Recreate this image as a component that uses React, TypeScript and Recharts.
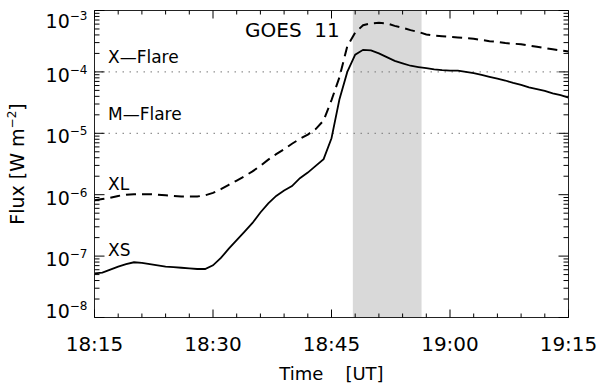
import { LineChart, Line, XAxis, YAxis, ReferenceArea, ReferenceLine, Label } from 'recharts'

const FONT = 'DejaVu Sans'

// minutes after 18:15 UT
const minutes = [
  0, 1, 2, 3, 4, 5, 6, 7, 8, 9, 10, 11, 12, 13, 14, 15, 16, 17, 18, 19, 20,
  21, 22, 23, 24, 25, 26, 27, 28, 29, 30, 31, 32, 33, 34, 35, 36, 37, 38, 39, 40,
  41, 42, 43, 44, 45, 46, 47, 48, 49, 50, 51, 52, 53, 54, 55, 56, 57, 58, 59, 60,
]

// GOES 11 short channel (XS), W m^-2
const xsFlux = [
  5.25e-8, 5.37e-8, 6.03e-8, 6.76e-8, 7.41e-8, 7.94e-8, 7.76e-8, 7.41e-8, 7.08e-8, 6.76e-8, 6.61e-8,
  6.46e-8, 6.31e-8, 6.17e-8, 6.17e-8, 7.08e-8, 9.33e-8, 1.32e-7, 1.82e-7, 2.51e-7, 3.47e-7,
  5.13e-7, 7.24e-7, 9.55e-7, 1.17e-6, 1.38e-6, 1.86e-6, 2.29e-6, 2.95e-6, 3.8e-6, 8.32e-6,
  3.55e-5, 1.0e-4, 1.91e-4, 2.29e-4, 2.24e-4, 2.0e-4, 1.74e-4, 1.51e-4, 1.38e-4, 1.26e-4,
  1.2e-4, 1.15e-4, 1.1e-4, 1.07e-4, 1.05e-4, 1.05e-4, 1.0e-4, 9.55e-5, 8.91e-5, 8.32e-5,
  7.76e-5, 7.24e-5, 6.61e-5, 6.17e-5, 5.62e-5, 5.25e-5, 4.9e-5, 4.47e-5, 4.17e-5, 3.8e-5,
]

// GOES 11 long channel (XL), W m^-2
const xlFlux = [
  8.13e-7, 8.51e-7, 8.91e-7, 9.55e-7, 1.0e-6, 1.02e-6, 1.02e-6, 1.02e-6, 1.0e-6, 9.77e-7, 9.55e-7,
  9.33e-7, 9.33e-7, 9.33e-7, 9.77e-7, 1.07e-6, 1.23e-6, 1.45e-6, 1.7e-6, 2.0e-6, 2.4e-6,
  2.95e-6, 3.72e-6, 4.57e-6, 5.5e-6, 6.76e-6, 8.13e-6, 9.55e-6, 1.17e-5, 1.62e-5, 3.47e-5,
  8.13e-5, 2.63e-4, 4.37e-4, 5.75e-4, 6.17e-4, 6.31e-4, 6.17e-4, 5.62e-4, 5.25e-4, 4.79e-4,
  4.47e-4, 4.07e-4, 3.89e-4, 3.8e-4, 3.72e-4, 3.63e-4, 3.55e-4, 3.47e-4, 3.31e-4, 3.16e-4,
  3.09e-4, 2.95e-4, 2.88e-4, 2.82e-4, 2.69e-4, 2.57e-4, 2.45e-4, 2.34e-4, 2.24e-4, 2.14e-4,
]

const timeTicks = [0, 15, 30, 45, 60]
const timeLabels = ['18:15', '18:30', '18:45', '19:00', '19:15']
const timeMinorTicks = [0, 3, 6, 9, 12, 15, 18, 21, 24, 27, 30, 33, 36, 39, 42, 45, 48, 51, 54, 57, 60]

const decades = [1e-8, 1e-7, 1e-6, 1e-5, 1e-4]
const mantissas = [1, 2, 3, 4, 5, 6, 7, 8, 9]
const fluxTicks = [...decades.flatMap((d) => mantissas.map((m) => m * d)), 1e-3]

// shaded interval (minutes after 18:15)
const flareStart = 32.7
const flareEnd = 41.4

const data = minutes.map((t, i) => ({ t, xs: xsFlux[i], xl: xlFlux[i] }))

const isDecade = (v: number) => {
  const lg = Math.log10(v)
  return Math.abs(lg - Math.round(lg)) < 1e-6
}

function BottomTick(props: any) {
  const { x, y, payload } = props
  const idx = timeTicks.indexOf(payload.value)
  const major = idx >= 0
  return (
    <g>
      <line x1={x} y1={y} x2={x} y2={y - (major ? 8 : 4)} stroke="#000" />
      {major && (
        <text x={x} y={y + 33.5} textAnchor="middle" fontSize={20} fontFamily={FONT} fill="#000">
          {timeLabels[idx]}
        </text>
      )}
    </g>
  )
}

function TopTick(props: any) {
  const { x, y, payload } = props
  const major = timeTicks.includes(payload.value)
  return <line x1={x} y1={y} x2={x} y2={y + (major ? 8 : 4)} stroke="#000" />
}

function LeftTick(props: any) {
  const { x, y, payload } = props
  const major = isDecade(payload.value)
  const exp = Math.round(Math.log10(payload.value))
  const dy = exp === -3 ? 17 : exp === -8 ? 0 : 10
  return (
    <g>
      <line x1={x} y1={y} x2={x + (major ? 10 : 5)} y2={y} stroke="#000" />
      {major && (
        <text x={x - 7} y={y + dy} textAnchor="end" fontSize={19} fontFamily={FONT} fill="#000">
          10
          <tspan dy={-8} fontSize={12}>
            {'\u2212' + Math.abs(exp)}
          </tspan>
        </text>
      )}
    </g>
  )
}

function RightTick(props: any) {
  const { x, y, payload } = props
  const major = isDecade(payload.value)
  return <line x1={x} y1={y} x2={x - (major ? 10 : 5)} y2={y} stroke="#000" />
}

const annotation = (text: string, dx: number, dy: number, size = 17) => (props: any) => {
  const vb = props.viewBox
  return (
    <text x={vb.x + dx} y={vb.y + dy} fontSize={size} fontFamily={FONT} fill="#000">
      {text}
    </text>
  )
}

const yTitle = (props: any) => {
  const vb = props.viewBox
  const cx = vb.x + 24
  const cy = vb.y + vb.height / 2
  return (
    <text
      x={cx}
      y={cy}
      transform={`rotate(-90, ${cx}, ${cy})`}
      textAnchor="middle"
      fontSize={19}
      fontFamily={FONT}
      fill="#000"
    >
      Flux [W m
      <tspan dy={-8} fontSize={12}>{'\u22122'}</tspan>
      <tspan dy={8}>]</tspan>
    </text>
  )
}

const xTitle = (props: any) => {
  const vb = props.viewBox
  return (
    <text x={vb.x + vb.width / 2} y={vb.y + 62.5} textAnchor="middle" fontSize={18} fontFamily={FONT} fill="#000">
      Time
      <tspan dx={22}>[UT]</tspan>
    </text>
  )
}

const goesTitle = (props: any) => {
  const vb = props.viewBox
  return (
    <text x={vb.x + 150.5} y={37} fontSize={20} fontFamily={FONT} fill="#000">
      {'GOES\u00a0\u00a011'}
    </text>
  )
}

export default function App() {
  return (
    <div style={{ position: 'absolute', left: 0, top: 0, width: 600, height: 384, background: '#fff' }}>
      <LineChart
        width={600}
        height={384}
        data={data}
        margin={{ top: 0, right: 0, bottom: 0, left: 0 }}
        style={{ fontFamily: FONT }}
      >
        <ReferenceArea x1={flareStart} x2={flareEnd} fill="#d9d9d9" fillOpacity={1} stroke="none" />
        <XAxis
          dataKey="t"
          type="number"
          domain={[0, 60]}
          ticks={timeMinorTicks}
          interval={0}
          allowDataOverflow
          height={66.5}
          tickSize={0}
          tickMargin={0}
          tickLine={false}
          tick={BottomTick}
          axisLine={{ stroke: '#222' }}
        >
          <Label content={xTitle} />
        </XAxis>
        <XAxis
          xAxisId="top"
          orientation="top"
          dataKey="t"
          type="number"
          domain={[0, 60]}
          ticks={timeMinorTicks}
          interval={0}
          allowDataOverflow
          height={10.5}
          tickSize={0}
          tickMargin={0}
          tickLine={false}
          tick={TopTick}
          axisLine={{ stroke: '#222' }}
        >
          <Label content={goesTitle} />
        </XAxis>
        <YAxis
          scale="log"
          type="number"
          domain={[1e-8, 1e-3]}
          ticks={fluxTicks}
          interval={0}
          allowDataOverflow
          width={94.5}
          tickSize={0}
          tickMargin={0}
          tickLine={false}
          tick={LeftTick}
          axisLine={{ stroke: '#222' }}
        >
          <Label content={yTitle} />
        </YAxis>
        <YAxis
          yAxisId="right"
          orientation="right"
          scale="log"
          type="number"
          domain={[1e-8, 1e-3]}
          ticks={fluxTicks}
          interval={0}
          allowDataOverflow
          width={31.5}
          tickSize={0}
          tickMargin={0}
          tickLine={false}
          tick={RightTick}
          axisLine={{ stroke: '#222' }}
        />
        <ReferenceLine y={1e-4} stroke="#777" strokeDasharray="1.5 5.5">
          <Label content={annotation('X\u2014Flare', 13.5, -8.5)} />
        </ReferenceLine>
        <ReferenceLine y={1e-5} stroke="#777" strokeDasharray="1.5 5.5">
          <Label content={annotation('M\u2014Flare', 13.5, -13)} />
        </ReferenceLine>
        <ReferenceLine y={1e-6} stroke="none">
          <Label content={annotation('XL', 13.5, -4.5)} />
        </ReferenceLine>
        <ReferenceLine y={1e-7} stroke="none">
          <Label content={annotation('XS', 13.5, 0)} />
        </ReferenceLine>
        <Line
          type="linear"
          dataKey="xl"
          stroke="#000"
          strokeWidth={2}
          strokeDasharray="10 6"
          dot={false}
          isAnimationActive={false}
        />
        <Line type="linear" dataKey="xs" stroke="#000" strokeWidth={1.8} dot={false} isAnimationActive={false} />
      </LineChart>
    </div>
  )
}
